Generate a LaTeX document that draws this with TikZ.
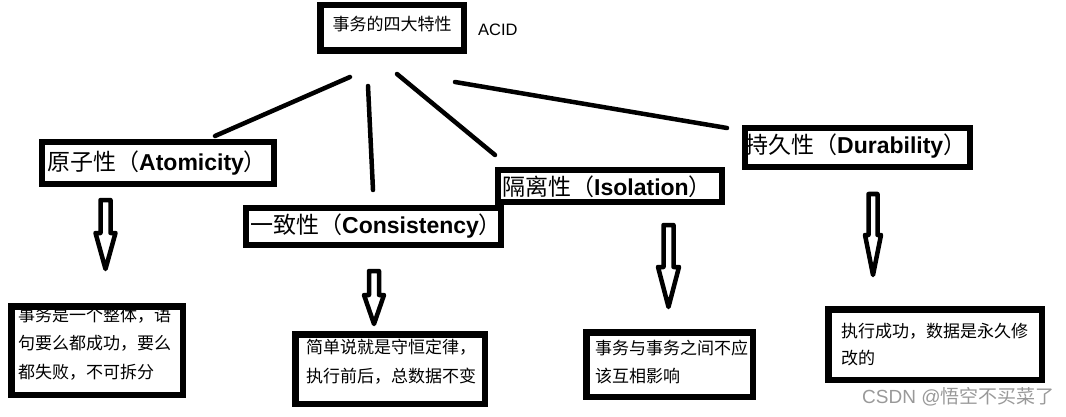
\documentclass[tikz,border=0pt]{standalone}
\usepackage{fontspec}
\setmainfont{Liberation Sans}
\newfontfamily\cjk{Noto Sans CJK SC}
\tikzset{
  hbox/.style={draw, line width=6pt, inner sep=0pt},
  bbox/.style={draw, line width=6.5pt, inner sep=0pt},
  htext/.style={anchor=west, inner sep=0pt, font=\fontsize{23}{27}\selectfont},
  btext/.style={anchor=west, inner sep=0pt, font=\cjk\fontsize{17}{20}\selectfont},
  conn/.style={line width=4.5pt, line cap=round},
  harrow/.style={line width=4.5pt, line join=round, fill=white}
}
\newcommand{\hollowarrow}[6]{% cx, top, shoulder, tip, shaft half width, head half width
  \draw[harrow] (#1-#5,#2) -- (#1+#5,#2) -- (#1+#5,#3) -- (#1+#6,#3) -- (#1,#4) -- (#1-#6,#3) -- (#1-#5,#3) -- cycle;}
\begin{document}
\begin{tikzpicture}[x=1pt,y=-1pt]
\useasboundingbox (0,0) rectangle (1066,417);
% top box
\node[draw, line width=6.5pt, inner sep=0pt, minimum width=143.5pt, minimum height=45.5pt] (top) at (392,28) {};
\node[anchor=center, inner sep=0pt, font=\cjk\fontsize{17}{20}\selectfont] (toptext) at (392,24) {事务的四大特性};
\node[anchor=west, inner sep=0pt, font=\fontsize{16.5}{20}\selectfont] (acid) at (478,30) {ACID};

% header boxes
\node[hbox, minimum width=232pt, minimum height=42pt] (atom) at (158,163) {};
\node[htext] (atomt) at (47,163) {{\cjk 原子性（}\textbf{Atomicity}{\cjk ）}};
\node[hbox, minimum width=255pt, minimum height=37pt] (cons) at (373.5,226.5) {};
\node[htext] (const) at (250,226.5) {{\cjk 一致性（}\textbf{Consistency}{\cjk ）}};
\node[hbox, minimum width=224pt, minimum height=32pt] (isol) at (610,186) {};
\node[htext] (isolt) at (502,187) {{\cjk 隔离性（}\textbf{Isolation}{\cjk ）}};
\node[hbox, minimum width=225pt, minimum height=39pt] (dura) at (857.5,147.5) {};
\node[htext] (durat) at (745,146) {{\cjk 持久性（}\textbf{Durability}{\cjk ）}};

% connectors
\coordinate (l1a) at (350,77); \coordinate (l1b) at (215,136);
\coordinate (l2a) at (368,86); \coordinate (l2b) at (373,190);
\coordinate (l3a) at (397,74); \coordinate (l3b) at (495,155);
\coordinate (l4a) at (455,82); \coordinate (l4b) at (727,128);
\draw[conn] (l1a) -- (l1b);
\draw[conn] (l2a) -- (l2b);
\draw[conn] (l3a) -- (l3b);
\draw[conn] (l4a) -- (l4b);

% hollow arrows
\hollowarrow{105.5}{200}{233}{269}{5}{10}
\hollowarrow{374}{271}{295}{324}{5}{10}
\hollowarrow{668.5}{225}{267}{307}{5}{10.5}
\hollowarrow{873}{194}{235}{275}{4.5}{8}

% bottom boxes
\node[bbox, minimum width=171.5pt, minimum height=88.5pt] (b1) at (97,350.5) {};
\node[btext] (b1a) at (18,315) {事务是一个整体，语};
\node[btext] (b1b) at (18,343.5) {句要么都成功，要么};
\node[btext] (b1c) at (18,372) {都失败，不可拆分};

\node[bbox, minimum width=189.5pt, minimum height=69.5pt] (b2) at (390,369) {};
\node[btext] (b2a) at (306,347.5) {简单说就是守恒定律，};
\node[btext] (b2b) at (306,376) {执行前后，总数据不变};

\node[bbox, minimum width=166.5pt, minimum height=64.5pt] (b3) at (669.5,364.5) {};
\node[btext] (b3a) at (595,348.5) {事务与事务之间不应};
\node[btext] (b3b) at (595,376.5) {该互相影响};

\node[bbox, minimum width=213.5pt, minimum height=70.5pt] (b4) at (935,344.5) {};
\node[btext] (b4a) at (841,331.5) {执行成功，数据是永久修};
\node[btext] (b4b) at (841,358.5) {改的};

% watermark
\node[anchor=west, inner sep=0pt, text=black!40, font=\fontsize{19}{22}\selectfont] (wm) at (862,397) {CSDN @{\cjk 悟空不买菜了}};
\end{tikzpicture}
\end{document}
